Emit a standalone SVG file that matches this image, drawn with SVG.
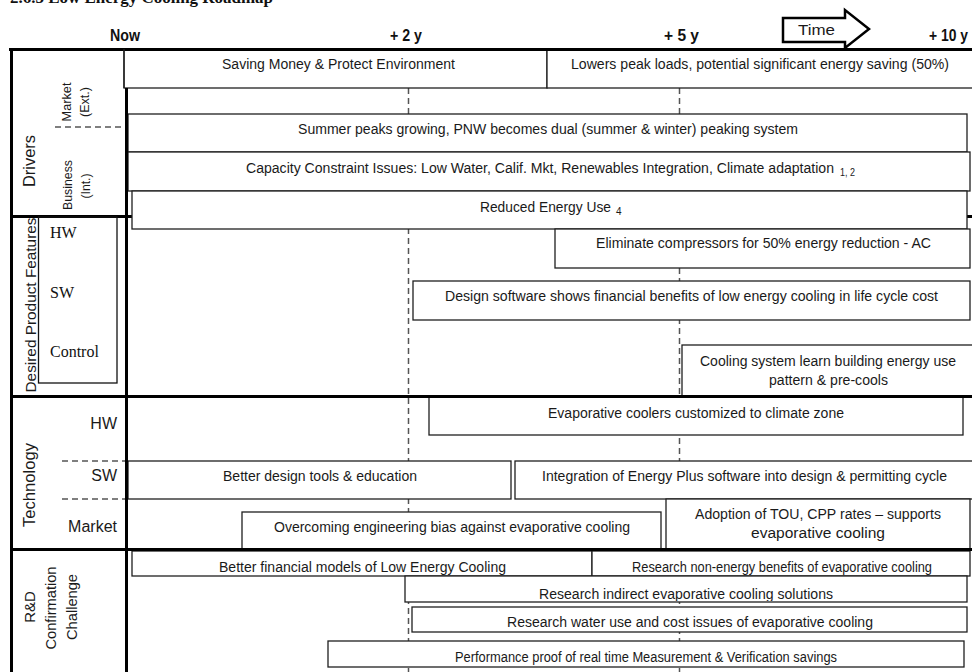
<svg xmlns="http://www.w3.org/2000/svg" width="972" height="672" viewBox="0 0 972 672">
<style>
.box{fill:#fff;stroke:#1f1f1f;stroke-width:1.3}
.t{font-family:"Liberation Sans",Arial,sans-serif;font-size:15.5px;fill:#1a1a1a}
.s{font-size:10px}
.hd{font-family:"Liberation Sans",Arial,sans-serif;font-size:17px;font-weight:bold;fill:#111}
.lb{font-family:"Liberation Sans",Arial,sans-serif;fill:#1a1a1a;text-anchor:middle}
.sf{font-family:"Liberation Serif","Times New Roman",serif;font-size:16px;fill:#111}
.thick{stroke:#000;stroke-width:3;fill:none}
.thin{stroke:#1f1f1f;stroke-width:1.3;fill:none}
.dash{stroke:#555;stroke-width:1.5;stroke-dasharray:6 4;fill:none}
</style>
<defs>
<clipPath id="c1"><rect x="132" y="551" width="460" height="24"/></clipPath>
<clipPath id="c2"><rect x="592" y="551" width="378" height="24"/></clipPath>
<clipPath id="c3"><rect x="405" y="576" width="562" height="25"/></clipPath>
<clipPath id="c4"><rect x="412" y="607" width="555" height="24"/></clipPath>
</defs>
<rect width="972" height="672" fill="#fff"/>
<text x="10" y="3" font-family="'Liberation Serif','Times New Roman',serif" font-size="16" font-weight="bold" fill="#111" textLength="263" lengthAdjust="spacingAndGlyphs">2.6.3 Low Energy Cooling Roadmap</text>

<g id="header">
<text class="hd" x="110" y="41" textLength="30" lengthAdjust="spacingAndGlyphs">Now</text>
<text class="hd" x="390" y="41" textLength="32" lengthAdjust="spacingAndGlyphs">+ 2 y</text>
<text class="hd" x="664" y="41" textLength="35" lengthAdjust="spacingAndGlyphs">+ 5 y</text>
<text class="hd" x="929" y="41" textLength="39" lengthAdjust="spacingAndGlyphs">+ 10 y</text>
</g>
<g id="time-arrow">
<polygon points="783,18 845,18 845,10 869,29 845,48 845,42 783,42" fill="#fff" stroke="#000" stroke-width="2.5" stroke-linejoin="miter"/>
<text class="t" x="798" y="35" font-size="17.5" textLength="37" lengthAdjust="spacingAndGlyphs">Time</text>
</g>

<g id="grid">
<line class="dash" x1="408.5" y1="88" x2="408.5" y2="672"/>
<line class="dash" x1="679.5" y1="88" x2="679.5" y2="672"/>
<line class="thick" x1="10" y1="216.5" x2="972" y2="216.5"/>
</g>

<g id="saving"><rect class="box" x="124" y="49" width="423" height="39"/><text class="t" x="222" y="69" textLength="233" lengthAdjust="spacingAndGlyphs">Saving Money &amp; Protect Environment</text></g>
<g id="lowers"><rect class="box" x="547" y="49" width="427" height="39"/><text class="t" x="571" y="69" textLength="378" lengthAdjust="spacingAndGlyphs">Lowers peak loads, potential significant energy saving (50%)</text></g>
<g id="summer"><rect class="box" x="128" y="114" width="839" height="38"/><text class="t" x="298" y="134" textLength="500" lengthAdjust="spacingAndGlyphs">Summer peaks growing, PNW becomes dual (summer &amp; winter) peaking system</text></g>
<g id="capacity"><rect class="box" x="128" y="152" width="842" height="39"/><text class="t" x="246" y="173" textLength="588" lengthAdjust="spacingAndGlyphs">Capacity Constraint Issues: Low Water, Calif. Mkt, Renewables Integration, Climate adaptation</text><text class="t s" x="840" y="176" textLength="15" lengthAdjust="spacingAndGlyphs">1, 2</text></g>
<g id="reduced"><rect class="box" x="132" y="191" width="835" height="38"/><text class="t" x="480" y="212" textLength="131" lengthAdjust="spacingAndGlyphs">Reduced Energy Use</text><text class="t s" x="616" y="215">4</text></g>
<g id="eliminate"><rect class="box" x="555" y="229" width="415" height="39"/><text class="t" x="596" y="248" textLength="335" lengthAdjust="spacingAndGlyphs">Eliminate compressors for 50% energy reduction - AC</text></g>
<g id="design-sw"><rect class="box" x="413" y="281" width="557" height="39"/><text class="t" x="445" y="301" textLength="493" lengthAdjust="spacingAndGlyphs">Design software shows financial benefits of low energy cooling in life cycle cost</text></g>
<g id="cooling-learn"><rect class="box" x="682" y="345" width="292" height="51"/><text class="t" x="700" y="366" textLength="256" lengthAdjust="spacingAndGlyphs">Cooling system learn building energy use</text><text class="t" x="769" y="385" textLength="119" lengthAdjust="spacingAndGlyphs">pattern &amp; pre-cools</text></g>
<g id="evap-coolers"><rect class="box" x="429" y="397" width="534" height="38"/><text class="t" x="548" y="418" textLength="296" lengthAdjust="spacingAndGlyphs">Evaporative coolers customized to climate zone</text></g>
<g id="better-design"><rect class="box" x="128" y="461" width="383" height="38"/><text class="t" x="223" y="481" textLength="194" lengthAdjust="spacingAndGlyphs">Better design tools &amp; education</text></g>
<g id="integration"><rect class="box" x="515" y="461" width="459" height="38"/><text class="t" x="542" y="481" textLength="405" lengthAdjust="spacingAndGlyphs">Integration of Energy Plus software into design &amp; permitting cycle</text></g>
<g id="overcoming"><rect class="box" x="242" y="512" width="419" height="37"/><text class="t" x="274" y="532" textLength="356" lengthAdjust="spacingAndGlyphs">Overcoming engineering bias against evaporative cooling</text></g>
<g id="adoption"><rect class="box" x="666" y="499" width="304" height="50"/><text class="t" x="695" y="519" textLength="246" lengthAdjust="spacingAndGlyphs">Adoption of TOU, CPP rates – supports</text><text class="t" x="751" y="538" textLength="134" lengthAdjust="spacingAndGlyphs">evaporative cooling</text></g>
<g id="fin-models"><rect class="box" x="132" y="551" width="460" height="25"/><text class="t" clip-path="url(#c1)" x="219" y="572" textLength="287" lengthAdjust="spacingAndGlyphs">Better financial models of Low Energy Cooling</text></g>
<g id="non-energy"><rect class="box" x="592" y="551" width="378" height="25"/><text class="t" clip-path="url(#c2)" font-size="13" x="632" y="572" textLength="300" lengthAdjust="spacingAndGlyphs">Research non-energy benefits of evaporative cooling</text></g>
<g id="indirect"><rect class="box" x="405" y="576" width="562" height="26"/><text class="t" clip-path="url(#c3)" x="539" y="599" textLength="294" lengthAdjust="spacingAndGlyphs">Research indirect evaporative cooling solutions</text></g>
<g id="water"><rect class="box" x="412" y="607" width="555" height="25"/><text class="t" clip-path="url(#c4)" x="507" y="627" textLength="366" lengthAdjust="spacingAndGlyphs">Research water use and cost issues of evaporative cooling</text></g>
<g id="performance"><rect class="box" x="328" y="641" width="636" height="26"/><text class="t" font-size="13" x="455" y="662" textLength="382" lengthAdjust="spacingAndGlyphs">Performance proof of real time Measurement &amp; Verification savings</text></g>

<g id="frame">
<line class="thick" x1="9" y1="49.5" x2="972" y2="49.5"/>
<line class="thick" x1="11.5" y1="48" x2="11.5" y2="672"/>
<line class="thick" x1="126.5" y1="88" x2="126.5" y2="672"/>
<line class="thin" x1="124" y1="49" x2="124" y2="88"/>
<line class="thick" x1="10" y1="396.5" x2="972" y2="396.5"/>
<line class="thick" x1="10" y1="549.5" x2="972" y2="549.5"/>
</g>

<g id="drivers-label">
<text class="lb" font-size="17" transform="translate(35,161) rotate(-90)" textLength="52" lengthAdjust="spacingAndGlyphs">Drivers</text>
<text class="lb" font-size="13.5" transform="translate(71,102) rotate(-90)" textLength="39" lengthAdjust="spacingAndGlyphs">Market</text>
<text class="lb" font-size="13.5" transform="translate(89,102) rotate(-90)" textLength="30" lengthAdjust="spacingAndGlyphs">(Ext.)</text>
<line class="dash" x1="55" y1="127" x2="122" y2="127"/>
<text class="lb" font-size="13.5" transform="translate(72,185) rotate(-90)" textLength="50" lengthAdjust="spacingAndGlyphs">Business</text>
<text class="lb" font-size="13.5" transform="translate(90,186) rotate(-90)" textLength="25" lengthAdjust="spacingAndGlyphs">(Int.)</text>
</g>
<g id="desired-label">
<rect x="38.5" y="217" width="78.5" height="166" fill="none" stroke="#111" stroke-width="1.3"/>
<text class="lb" font-size="15" transform="translate(35.5,305) rotate(-90)" textLength="175" lengthAdjust="spacingAndGlyphs">Desired Product Features</text>
<text class="sf" x="50" y="238">HW</text>
<text class="sf" x="50" y="298">SW</text>
<text class="sf" x="50" y="357">Control</text>
</g>
<g id="technology-label">
<text class="lb" font-size="17" transform="translate(35,485) rotate(-90)" textLength="84" lengthAdjust="spacingAndGlyphs">Technology</text>
<text class="lb" font-size="16" x="117" y="429" style="text-anchor:end">HW</text>
<text class="lb" font-size="16" x="117" y="481" style="text-anchor:end">SW</text>
<text class="lb" font-size="16" x="117" y="532" style="text-anchor:end">Market</text>
<line class="dash" x1="62" y1="461" x2="125" y2="461"/>
<line class="dash" x1="62" y1="499" x2="125" y2="499"/>
</g>
<g id="rd-label">
<text class="lb" font-size="15" transform="translate(35,607) rotate(-90)">R&amp;D</text>
<text class="lb" font-size="15" transform="translate(56,608) rotate(-90)" textLength="83" lengthAdjust="spacingAndGlyphs">Confirmation</text>
<text class="lb" font-size="15" transform="translate(77,607) rotate(-90)" textLength="66" lengthAdjust="spacingAndGlyphs">Challenge</text>
</g>
</svg>
